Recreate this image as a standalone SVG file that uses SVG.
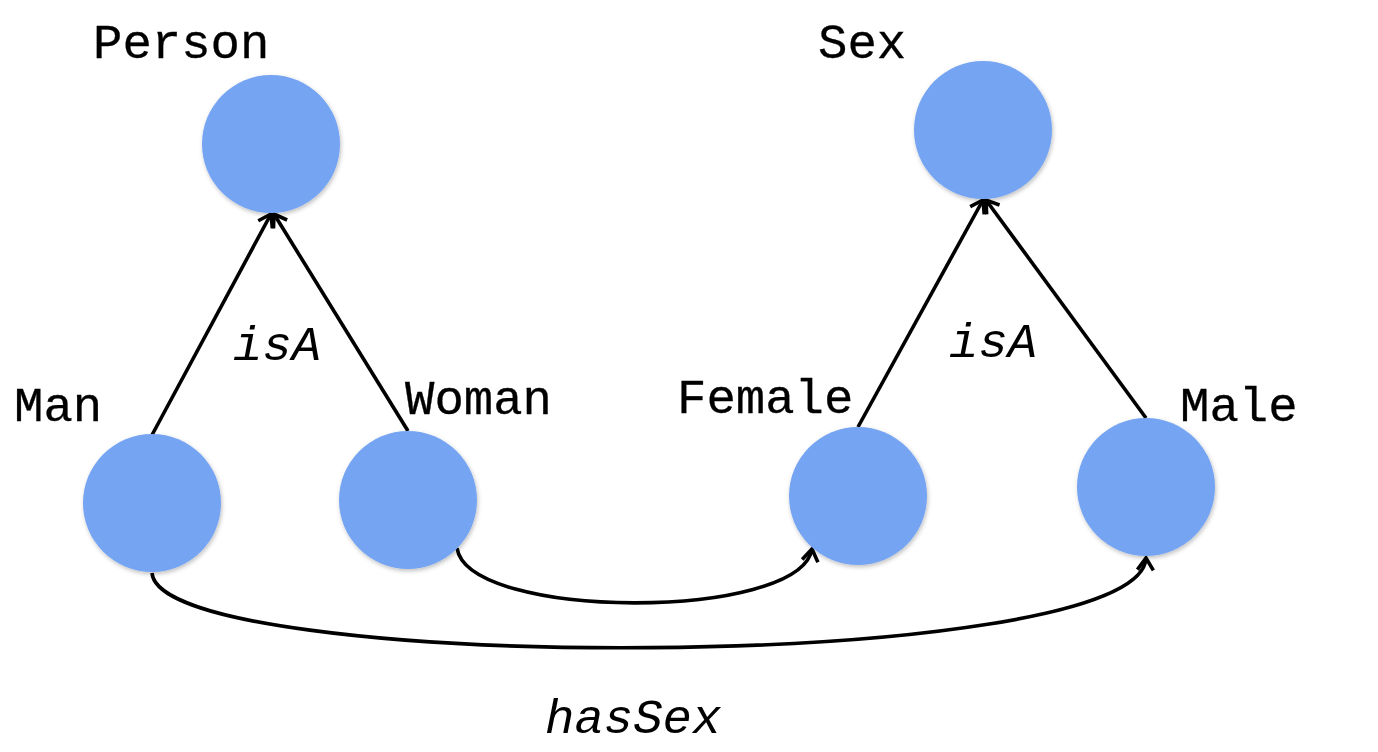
<svg xmlns="http://www.w3.org/2000/svg" width="1378" height="752" viewBox="0 0 1378 752">
<style>
.node{fill:#75A4F2;filter:url(#sh)}
.lbl{font-family:"Courier New","Nimbus Mono PS","FreeMono","Liberation Mono",monospace;font-size:49px;fill:#000;stroke:#000;stroke-width:0.3}
.it{font-style:italic;stroke-width:0}
.edge{fill:none;stroke:#000;stroke-width:3.6}
</style>
<defs>
<filter id="sh" x="-20%" y="-20%" width="140%" height="140%">
<feDropShadow dx="1" dy="2" stdDeviation="2" flood-color="#000" flood-opacity="0.25"/>
</filter>
<marker id="arr" viewBox="-14 -10 16 20" markerWidth="16" markerHeight="20" refX="0" refY="0" orient="auto" markerUnits="userSpaceOnUse">
<path d="M-12,-8 L0,0 L-12,8" fill="none" stroke="#000" stroke-width="3.6"/>
</marker>
</defs>
<rect width="1378" height="752" fill="#fff"/>
<g id="connectors">
<path class="edge" d="M152,435 L271,214" marker-end="url(#arr)"/>
<path class="edge" d="M408,431 L274,214" marker-end="url(#arr)"/>
<path class="edge" d="M858,427 L983,200" marker-end="url(#arr)"/>
<path class="edge" d="M1146,418 L986,200" marker-end="url(#arr)"/>
<path class="edge" d="M457,548 C468,621 800,621 812,549" marker-end="url(#arr)"/>
<path class="edge" d="M152,573 C160,675 1140,675 1146,558" marker-end="url(#arr)"/>
<text class="lbl it" x="233" y="360">isA</text>
<text class="lbl it" x="949" y="357">isA</text>
<text class="lbl it" x="545" y="733">hasSex</text>
</g>
<g id="person"><circle class="node" cx="271" cy="144" r="69"/><text class="lbl" x="93" y="58">Person</text></g>
<g id="sex"><circle class="node" cx="983" cy="130" r="69"/><text class="lbl" x="818" y="58">Sex</text></g>
<g id="man"><circle class="node" cx="152" cy="503" r="69"/><text class="lbl" x="14" y="421">Man</text></g>
<g id="woman"><circle class="node" cx="408" cy="500" r="69"/><text class="lbl" x="405" y="414">Woman</text></g>
<g id="female"><circle class="node" cx="858" cy="496" r="69"/><text class="lbl" x="677" y="413">Female</text></g>
<g id="male"><circle class="node" cx="1146" cy="487" r="69"/><text class="lbl" x="1180" y="421">Male</text></g>
</svg>
